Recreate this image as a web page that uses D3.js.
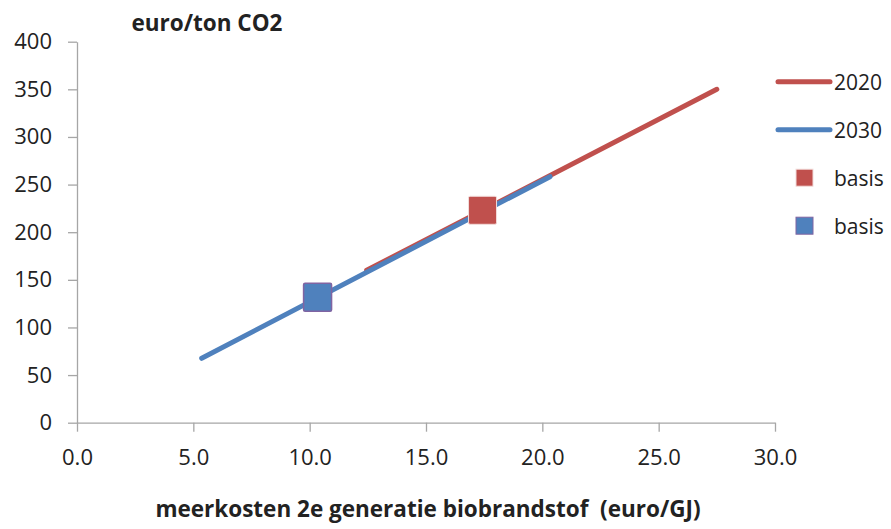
<!DOCTYPE html>
<html>
<head>
<meta charset="UTF-8">
<title>meerkosten 2e generatie biobrandstof</title>
<style>
body { margin: 0; background: #fff; }
svg text { font-family: "Open Sans", sans-serif; fill: #222; }
.axis path, .axis line { stroke: #a6a6a6; stroke-width: 1.3px; }
.axis text { font-size: 22px; }
</style>
<script src="https://d3js.org/d3.v7.min.js"></script>
</head>
<body>
<script>
// series values: [meerkosten euro/GJ, euro/ton CO2]
var line2020 = [[12.45, 160], [27.5, 350]];
var line2030 = [[5.36, 67.6], [20.33, 258.3]];
var basis2020 = [[17.43, 223]];
var basis2030 = [[10.34, 131.6]];
var xTicks = [0, 5, 10, 15, 20, 25, 30];
var yTicks = [0, 50, 100, 150, 200, 250, 300, 350, 400];
var legendItems = [
  {label: "2020", type: "line", color: "#c0504d"},
  {label: "2030", type: "line", color: "#4f81bd"},
  {label: "basis", type: "square", color: "#c0504d", edge: "#f2dcdb"},
  {label: "basis", type: "square", color: "#4f81bd", edge: "#8064a2"}
];

var width = 891, height = 529;

var svg = d3.select("body").append("svg")
  .attr("width", width)
  .attr("height", height);

var x = d3.scaleLinear().domain([0, 30]).range([77, 775]);
var y = d3.scaleLinear().domain([0, 400]).range([422.7, 41.7]);

svg.append("g")
  .attr("class", "axis")
  .attr("transform", "translate(0," + y(0) + ")")
  .call(d3.axisBottom(x).tickValues(xTicks).tickSize(9).tickSizeOuter(0).tickPadding(18)
    .tickFormat(d3.format(".1f")));

svg.append("g")
  .attr("class", "axis")
  .attr("transform", "translate(" + x(0) + ",0)")
  .call(d3.axisLeft(y).tickValues(yTicks).tickSize(9).tickSizeOuter(0).tickPadding(16));

var valueline = d3.line()
  .x(function(d) { return x(d[0]); })
  .y(function(d) { return y(d[1]); });

svg.append("path").attr("d", valueline(line2020))
  .attr("fill", "none").attr("stroke", "#c0504d").attr("stroke-width", 5).attr("stroke-linecap", "round");
svg.append("path").attr("d", valueline(line2030))
  .attr("fill", "none").attr("stroke", "#4f81bd").attr("stroke-width", 5).attr("stroke-linecap", "round");

var s = 28;
svg.selectAll(".b2020").data(basis2020).enter().append("rect")
  .attr("x", function(d) { return x(d[0]) - s / 2; })
  .attr("y", function(d) { return y(d[1]) - s / 2; })
  .attr("width", s).attr("height", s).attr("rx", 1.5)
  .attr("fill", "#c0504d").attr("stroke", "#f2dcdb").attr("stroke-width", 1);
svg.selectAll(".b2030").data(basis2030).enter().append("rect")
  .attr("x", function(d) { return x(d[0]) - s / 2; })
  .attr("y", function(d) { return y(d[1]) - s / 2; })
  .attr("width", s).attr("height", s).attr("rx", 1.5)
  .attr("fill", "#4f81bd").attr("stroke", "#8064a2").attr("stroke-width", 1.5);

// legend
var legend = svg.append("g");
legendItems.forEach(function(item, i) {
  var ly = 81.7 + i * 48;
  if (item.type === "line") {
    legend.append("line")
      .attr("x1", 778).attr("x2", 830).attr("y1", ly).attr("y2", ly)
      .attr("stroke", item.color).attr("stroke-width", 5).attr("stroke-linecap", "round");
  } else {
    legend.append("rect")
      .attr("x", 796).attr("y", ly - 8.5).attr("width", 17).attr("height", 17)
      .attr("fill", item.color).attr("stroke", item.edge).attr("stroke-width", 1);
  }
  legend.append("text")
    .attr("x", 834).attr("y", ly + 8)
    .style("font-size", "21px")
    .text(item.label);
});

// axis titles
svg.append("text")
  .attr("x", 207).attr("y", 31)
  .style("text-anchor", "middle")
  .style("font-size", "22.5px").style("font-weight", "bold")
  .text("euro/ton CO2");

svg.append("text")
  .attr("x", 428).attr("y", 517)
  .style("text-anchor", "middle")
  .style("font-size", "22.5px").style("font-weight", "bold")
  .attr("xml:space", "preserve")
  .text("meerkosten 2e generatie biobrandstof  (euro/GJ)");
</script>
</body>
</html>
